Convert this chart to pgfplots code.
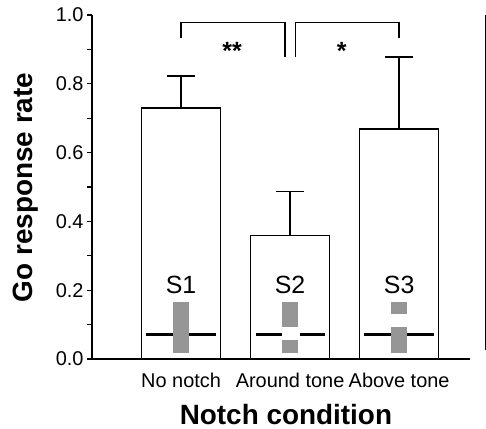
\documentclass[border=0pt]{standalone}
\usepackage{fontspec}
\setmainfont{Liberation Sans}
\usepackage{pgfplots}
\pgfplotsset{compat=1.18}
\definecolor{sgray}{RGB}{150,150,150}

\begin{document}
\begin{tikzpicture}
\useasboundingbox (-92bp,-70bp) rectangle (394bp,359bp);
\begin{axis}[
    scale only axis, width=378bp, height=344bp,
    xmin=-0.817, xmax=2.65, ymin=0, ymax=1,
    axis lines*=left,
    axis line style={line width=1.3bp},
    clip=false,
    xtick={0,1,2},
    xticklabels={No notch, Around tone, Above tone},
    x tick style={draw=none},
    ytick={0,0.2,0.4,0.6,0.8,1.0},
    minor ytick={0.1,0.3,0.5,0.7,0.9},
    tick align=outside,
    major tick length=5bp, minor tick length=5bp,
    y tick style={line width=1.3bp, black},
    /pgf/number format/assume math mode=true,
    yticklabel style={/pgf/number format/fixed, /pgf/number format/precision=1,
        /pgf/number format/fixed zerofill},
    tick label style={font=\fontsize{20}{24}\selectfont},
    xticklabel style={anchor=base, yshift=-23bp},
    xlabel={Notch condition},
    xlabel style={font=\bfseries\fontsize{28}{32}\selectfont,
        at={(axis description cs:0.513,-0.16)}, anchor=center},
    ylabel={Go response rate},
    ylabel style={font=\bfseries\fontsize{28}{32}\selectfont,
        at={(axis description cs:-0.175,0.4985)}, anchor=center, rotate=0},
]
% bars with upper error bars
\addplot[ybar, bar width=79bp, fill=white, draw=black, line width=1.3bp,
    error bars/.cd, y dir=plus, y explicit, error mark=|,
    error mark options={mark size=14bp, line width=1.3bp},
    error bar style={line width=1.3bp}]
    coordinates {(0,0.73) +- (0,0.093) (1,0.36) +- (0,0.126) (2,0.669) +- (0,0.209)};

% stimulus sketches
\addplot[black, line width=3bp] coordinates {(-0.32,0.0718) (0.32,0.0718)};
\addplot[fill=sgray, draw=none] coordinates {(-0.073,0.0166) (0.073,0.0166) (0.073,0.1666) (-0.073,0.1666)} -- cycle;

\addplot[black, line width=3bp] coordinates {(0.688,0.0718) (0.924,0.0718)};
\addplot[black, line width=3bp] coordinates {(1.092,0.0718) (1.321,0.0718)};
\addplot[fill=sgray, draw=none] coordinates {(0.925,0.0922) (1.075,0.0922) (1.075,0.1666) (0.925,0.1666)} -- cycle;
\addplot[fill=sgray, draw=none] coordinates {(0.925,0.0166) (1.075,0.0166) (1.075,0.0552) (0.925,0.0552)} -- cycle;

\addplot[black, line width=3bp] coordinates {(1.677,0.0718) (2.32,0.0718)};
\addplot[fill=sgray, draw=none] coordinates {(1.925,0.130) (2.075,0.130) (2.075,0.1666) (1.925,0.1666)} -- cycle;
\addplot[fill=sgray, draw=none] coordinates {(1.925,0.0166) (2.075,0.0166) (2.075,0.0922) (1.925,0.0922)} -- cycle;

\node[font=\fontsize{25}{30}\selectfont] at (axis cs:0,0.215) {S1};
\node[font=\fontsize{25}{30}\selectfont] at (axis cs:1,0.215) {S2};
\node[font=\fontsize{25}{30}\selectfont] at (axis cs:2,0.215) {S3};

% significance brackets
\addplot[black, line width=1.3bp] coordinates {(0,0.934) (0,0.9776) (0.954,0.9776) (0.954,0.878)};
\addplot[black, line width=1.3bp] coordinates {(1.052,0.878) (1.052,0.9776) (2,0.9776) (2,0.934)};
\node[font=\bfseries\fontsize{25}{30}\selectfont] at (axis cs:0.468,0.895) {**};
\node[font=\bfseries\fontsize{25}{30}\selectfont] at (axis cs:1.474,0.895) {*};

% edge of the neighbouring panel
\addplot[black, line width=1.3bp] coordinates {(2.789,0.026) (2.789,1)};
\end{axis}
\end{tikzpicture}
\end{document}
